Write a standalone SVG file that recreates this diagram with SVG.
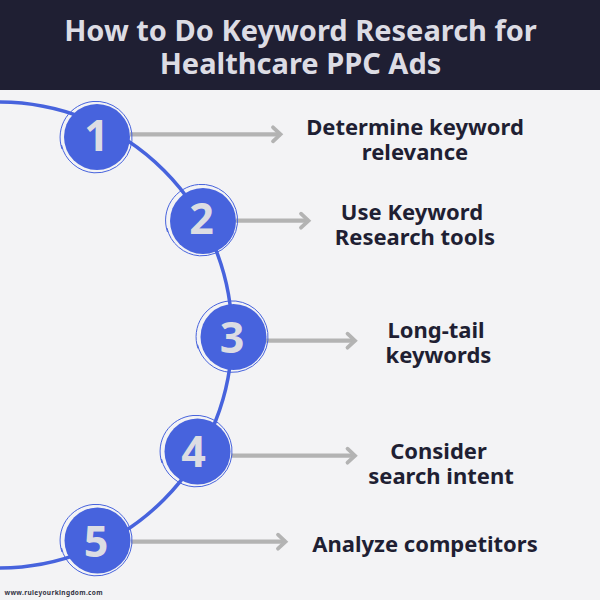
<svg xmlns="http://www.w3.org/2000/svg" width="600" height="600" viewBox="0 0 600 600">
<defs>
<marker id="ah" markerUnits="userSpaceOnUse" markerWidth="16" markerHeight="20" refX="12" refY="10" orient="auto"><path d="M4.500 3 L12 10 L4.500 17" fill="none" stroke="#b3b3b3" stroke-width="3.800" stroke-linecap="round"/></marker>
<path id="ring" d="M-34 12 A36 36 0 0 1 -3 -35.500 A36 36 0 0 1 35.800 -4 A36 35.500 0 0 1 -2 35.800 A36 36 0 0 1 -34.500 8" fill="none" stroke="#4763dd" stroke-width="1"/>
</defs>
<style>
.lab{font-family:"Noto Sans","Liberation Sans",sans-serif;font-weight:700;font-size:22px;fill:#1f1f33;text-anchor:middle}
.ttl{font-family:"Noto Sans","Liberation Sans",sans-serif;font-weight:700;font-size:29px;fill:#dcdce4;text-anchor:middle}
.num{font-family:"Noto Sans","Liberation Sans",sans-serif;font-weight:700;font-size:43px;fill:#dcdde3;text-anchor:middle}
.disc{fill:#4763dd}
.arr{stroke:#b3b3b3;stroke-width:4.200;fill:none;marker-end:url(#ah)}
</style>
<rect width="600" height="600" fill="#f3f3f5"/>
<g id="header"><rect width="600" height="90" fill="#1f1f33"/>
<text class="ttl" x="300.500" y="40.500">How to Do Keyword Research for</text>
<text class="ttl" x="300.500" y="73.500">Healthcare PPC Ads</text></g>
<g id="connectors">
<path d="M-1 102 A233 233 0 0 1 -1 568" fill="none" stroke="#4763dd" stroke-width="3.500"/>
<path class="arr" d="M130 134.300H280.500"/>
<path class="arr" d="M236 220.700H308.500"/>
<path class="arr" d="M266 340.700H355"/>
<path class="arr" d="M231 455.700H355"/>
<path class="arr" d="M131 541.700H285.500"/>
</g>
<g id="node1"><circle class="disc" cx="97" cy="137" r="33"/><use href="#ring" x="96" y="137"/><text class="num" x="96.500" y="151">1</text></g>
<g id="node2"><circle class="disc" cx="203" cy="221" r="33"/><use href="#ring" x="201.500" y="220"/><text class="num" x="201.500" y="234">2</text></g>
<g id="node3"><circle class="disc" cx="233.500" cy="337" r="33"/><use href="#ring" x="232" y="336.500"/><text class="num" x="232" y="352.500">3</text></g>
<g id="node4"><circle class="disc" cx="197.500" cy="451.500" r="33"/><use href="#ring" x="196" y="451"/><text class="num" x="193.500" y="467">4</text></g>
<g id="node5"><circle class="disc" cx="97.500" cy="540.500" r="33"/><use href="#ring" x="96" y="540"/><text class="num" x="96" y="556.500">5</text></g>
<g id="label1"><text class="lab" x="415" y="134.500">Determine keyword</text><text class="lab" x="415" y="159.500">relevance</text></g>
<g id="label2"><text class="lab" x="412" y="220">Use Keyword</text><text class="lab" x="415" y="245">Research tools</text></g>
<g id="label3"><text class="lab" x="436" y="338">Long-tail</text><text class="lab" x="438.500" y="363">keywords</text></g>
<g id="label4"><text class="lab" x="438.500" y="459">Consider</text><text class="lab" x="441" y="484">search intent</text></g>
<g id="label5"><text class="lab" x="425" y="551.500">Analyze competitors</text></g>
<text x="4.500" y="595" font-family="'Noto Sans','Liberation Sans',sans-serif" font-weight="700" font-size="6.500" letter-spacing=".35" fill="#333344">www.ruleyourkingdom.com</text>
</svg>
